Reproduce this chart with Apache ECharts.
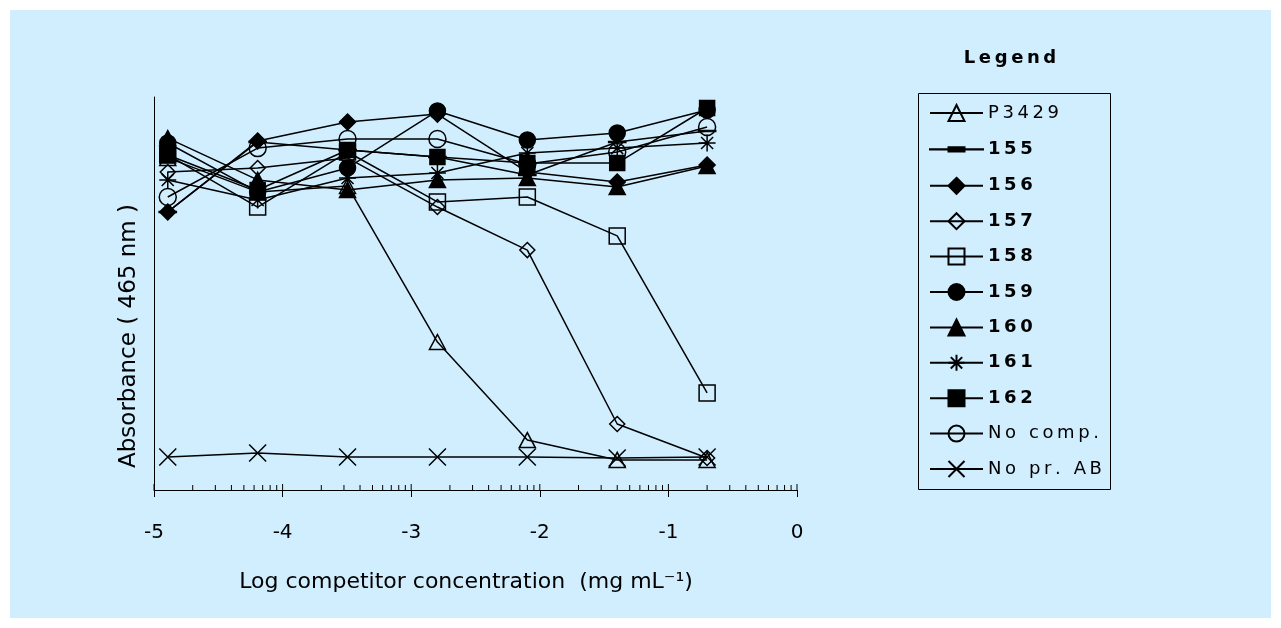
<!DOCTYPE html>
<html>
<head>
<meta charset="utf-8">
<script src="https://cdn.jsdelivr.net/npm/echarts@6/dist/echarts.min.js"></script>
<style>
  html, body { margin: 0; padding: 0; background: #ffffff; }
  #chart { width: 1281px; height: 628px; }
</style>
</head>
<body>
<div id="chart"></div>
<script>
// log10 of the competitor concentration (mg/mL), 5-fold dilution series from 0.2 mg/mL
const logConc = [-4.893, -4.194, -3.495, -2.796, -2.097, -1.398, -0.699];

// Absorbance at 465 nm for each competitor
const absP3429  = [1.690, 1.517, 1.547, 0.753, 0.254, 0.153, 0.153];
const abs155    = [1.415, 1.771, 1.730, 1.695, 1.603, 1.771, 1.827];
const abs156    = [1.415, 1.776, 1.873, 1.913, 1.618, 1.567, 1.654];
const abs157    = [1.618, 1.639, 1.690, 1.440, 1.221, 0.336, 0.163];
const abs158    = [1.705, 1.440, 1.720, 1.466, 1.491, 1.293, 0.494];
const abs159    = [1.766, 1.517, 1.639, 1.929, 1.781, 1.817, 1.934];
const abs160    = [1.791, 1.578, 1.527, 1.578, 1.588, 1.542, 1.649];
const abs161    = [1.578, 1.476, 1.588, 1.613, 1.715, 1.740, 1.766];
const abs162    = [1.705, 1.527, 1.730, 1.695, 1.664, 1.664, 1.944];
const absNoComp = [1.491, 1.740, 1.786, 1.786, 1.659, 1.720, 1.847];
const absNoPrAB = [0.168, 0.188, 0.168, 0.168, 0.168, 0.163, 0.168];

const seriesNames = ['P3429', '155', '156', '157', '158', '159', '160', '161', '162', 'No comp.', 'No pr. AB'];
const seriesValues = [absP3429, abs155, abs156, abs157, abs158, abs159, abs160, abs161, abs162, absNoComp, absNoPrAB];
const boldNames = ['155', '156', '157', '158', '159', '160', '161', '162'];

// x-axis decades and the logarithmic minor ticks inside each decade
const majorTicks = [-5, -4, -3, -2, -1, 0];
const minorTicks = [];
for (let d = -5; d < 0; d++) {
  for (let k = 2; k <= 9; k++) minorTicks.push(d + Math.log10(k));
}

const xTitle = 'Log competitor concentration  (mg mL\u207B\u00B9)';
const yTitle = 'Absorbance ( 465 nm )';
const legendTitle = 'Legend';

const INK = '#000000';
const CLEAR = 'rgba(0,0,0,0)';
const FONT = 'DejaVu Sans';

// marker style per series
const markers = {
  'P3429':    { symbol: 'triangle', size: [16, 15], fill: CLEAR },
  '155':      { symbol: 'path://M0,0H16V5H0Z', size: [16, 5], fill: INK },
  '156':      { symbol: 'diamond', size: 16, fill: INK },
  '157':      { symbol: 'diamond', size: 15, fill: CLEAR },
  '158':      { symbol: 'rect', size: 16, fill: CLEAR },
  '159':      { symbol: 'circle', size: 16, fill: INK },
  '160':      { symbol: 'triangle', size: [16, 15], fill: INK },
  '161':      { symbol: 'path://M10,0V20M0,10H20M2.9,2.9L17.1,17.1M17.1,2.9L2.9,17.1', size: 17, fill: CLEAR },
  '162':      { symbol: 'rect', size: 15, fill: INK },
  'No comp.': { symbol: 'circle', size: 17, fill: CLEAR },
  'No pr. AB':{ symbol: 'path://M0,0L20,20M20,0L0,20', size: 17, fill: CLEAR }
};

// legend key for the bar marker: line across the key with the short bar in its middle
const barLegendIcon = 'path://M0,0M53,20M0,9.8H53V10.2H0ZM18.5,7.8H34.5V12.2H18.5Z';

const spaced = s => s.split('').join('\u2009');

const lineSeries = seriesNames.map((name, i) => ({
  name: name,
  type: 'line',
  data: logConc.map((x, j) => [x, seriesValues[i][j]]),
  symbol: markers[name].symbol,
  symbolSize: markers[name].size,
  symbolKeepAspect: true,
  showAllSymbol: true,
  lineStyle: { color: INK, width: 1.5 },
  itemStyle: { color: markers[name].fill, borderColor: INK, borderWidth: 1.5 },
  emphasis: { disabled: true },
  z: 3
}));

const tickSeries = {
  type: 'custom',
  silent: true,
  clip: false,
  z: 2,
  data: majorTicks.concat(minorTicks).map(x => [x, 0]),
  encode: { x: 0, y: 1 },
  renderItem: function (params, api) {
    const x = api.value(0);
    const p = api.coord([x, 0]);
    const len = Number.isInteger(x) ? 6 : 5;
    return {
      type: 'line',
      shape: { x1: p[0], y1: p[1], x2: p[0], y2: p[1] - len },
      style: { stroke: INK, lineWidth: 1 }
    };
  }
};

const chart = echarts.init(document.getElementById('chart'), null, { renderer: 'canvas' });

chart.setOption({
  backgroundColor: '#ffffff',
  animation: false,
  textStyle: { fontFamily: FONT },
  graphic: [
    { type: 'rect', left: 10, top: 10, z: -10, silent: true,
      shape: { width: 1261, height: 608 }, style: { fill: '#D0EEFE' } },
    { type: 'rect', left: 918, top: 93, z: -5, silent: true,
      shape: { width: 192, height: 396 }, style: { fill: CLEAR, stroke: INK, lineWidth: 1 } },
    { type: 'text', x: 1010, y: 58, z: 5, silent: true,
      style: { text: spaced(legendTitle), font: 'bold 18px "DejaVu Sans"', fill: INK,
               align: 'center', verticalAlign: 'middle' } },
    { type: 'text', x: 466, y: 582, z: 5, silent: true,
      style: { text: xTitle, font: '22px "DejaVu Sans"', fill: INK,
               align: 'center', verticalAlign: 'middle' } },
    { type: 'text', x: 129, y: 336, rotation: Math.PI / 2, z: 5, silent: true,
      style: { text: yTitle, font: '23px "DejaVu Sans"', fill: INK,
               align: 'center', verticalAlign: 'middle' } }
  ],
  grid: { left: 154, top: 97, right: 484, bottom: 138, containLabel: false },
  xAxis: {
    type: 'value',
    min: -5, max: 0, interval: 1,
    axisLine: { show: true, onZero: false, lineStyle: { color: INK, width: 1 } },
    axisTick: { show: true, inside: false, length: 7, lineStyle: { color: INK, width: 1 } },
    splitLine: { show: false },
    axisLabel: { color: INK, fontSize: 20, margin: 33, fontFamily: FONT }
  },
  yAxis: {
    type: 'value',
    min: 0, max: 2,
    axisLine: { show: true, onZero: false, lineStyle: { color: INK, width: 1 } },
    axisTick: { show: false },
    axisLabel: { show: false },
    splitLine: { show: false }
  },
  legend: {
    orient: 'vertical',
    left: 929,
    top: 103,
    padding: 0,
    itemWidth: 53,
    itemHeight: 20,
    itemGap: 15.4,
    selectedMode: false,
    data: seriesNames.map(name => name === '155' ? { name: name, icon: barLegendIcon } : name),
    formatter: function (name) {
      return boldNames.indexOf(name) >= 0 ? '{b|' + spaced(name) + '}' : '{n|' + spaced(name) + '}';
    },
    textStyle: {
      color: INK,
      fontFamily: FONT,
      fontSize: 18,
      lineHeight: 20,
      rich: {
        b: { fontWeight: 'bold', fontSize: 18, lineHeight: 20, fontFamily: FONT, color: INK },
        n: { fontWeight: 'normal', fontSize: 18, lineHeight: 20, fontFamily: FONT, color: INK }
      }
    }
  },
  series: lineSeries.concat([tickSeries])
});
</script>
</body>
</html>
